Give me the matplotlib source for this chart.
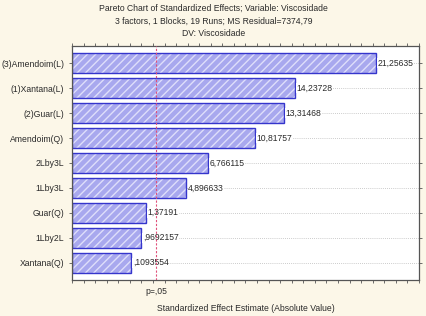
import numpy as np
import matplotlib.pyplot as plt

plt.rcParams['font.family'] = ['Liberation Sans', 'DejaVu Sans']

# effects, ordered as in the chart (largest on top)
effects = ['(3)Amendoim(L)', '(1)Xantana(L)', '(2)Guar(L)', 'Amendoim(Q)',
           '2Lby3L', '1Lby3L', 'Guar(Q)', '1Lby2L', 'Xantana(Q)']
values = [21.25635, 14.23728, 13.31468, 10.81757, 6.766115, 4.896633,
          1.37191, 0.9692157, 0.1093554]
value_labels = ['21,25635', '14,23728', '13,31468', '10,81757', '6,766115',
                '4,896633', '1,37191', ',9692157', ',1093554']
p_crit = 2.262
x_min, x_max = -5, 25

bg = '#fcf7e8'
txt = '#2a2a2a'
fs = 6.2
fig = plt.figure(figsize=(4.27, 3.16), dpi=100, facecolor=bg)
ax = fig.add_axes([72 / 427, 1 - 280 / 316, (419 - 72) / 427, (280 - 46) / 316])
ax.set_facecolor('white')

y = np.arange(len(effects))
for yi in y:
    ax.axhline(yi, color='#bbbbbb', lw=0.6, ls=(0, (1, 1.5)), zorder=0)

plt.rcParams['hatch.linewidth'] = 1.0
widths = np.array(values) - x_min
# dotted fill with light diagonal stripes, then outline
ax.barh(y, widths, left=x_min, height=0.8, facecolor='#a8a8ee',
        edgecolor='#dedefa', hatch='////', lw=0, zorder=2)
ax.barh(y, widths, left=x_min, height=0.8, facecolor='none',
        edgecolor='#3535cc', lw=1.0, zorder=2)

for yi, v, lab in zip(y, values, value_labels):
    ax.text(v + 0.15, yi, lab, va='center', ha='left', fontsize=fs,
            color=txt, zorder=3,
            bbox=dict(facecolor='white', edgecolor='none', pad=0.3))

ax.axvline(p_crit, color='#e0507a', lw=0.8, ls=(0, (2, 1.5)), zorder=3)

ax.set_xlim(x_min, x_max)
ax.set_ylim(len(effects) - 0.3, -0.7)
ax.set_yticks(y)
ax.set_yticklabels(effects, fontsize=fs, color=txt)
ax.tick_params(axis='y', which='both', left=True, right=True, length=2.5,
               width=0.6, color='#555555', pad=3)
ax.set_xticks([p_crit])
ax.set_xticklabels(['p=,05'], fontsize=fs, color=txt)
ax.set_xticks(np.arange(x_min, x_max + 1, 1), minor=True)
ax.tick_params(axis='x', which='major', length=0, pad=5)
ax.tick_params(axis='x', which='minor', top=True, bottom=True, length=2,
               width=0.6, color='#555555')
for s in ax.spines.values():
    s.set_color('#555555')
    s.set_linewidth(0.9)

ax.set_xlabel('Standardized Effect Estimate (Absolute Value)', fontsize=fs,
              color=txt, labelpad=6)

fig.text(0.5, 1 - 8 / 316, 'Pareto Chart of Standardized Effects; Variable: Viscosidade',
         ha='center', va='center', fontsize=fs, color=txt)
fig.text(0.5, 1 - 21 / 316, '3 factors, 1 Blocks, 19 Runs; MS Residual=7374,79',
         ha='center', va='center', fontsize=fs, color=txt)
fig.text(0.5, 1 - 34 / 316, 'DV: Viscosidade',
         ha='center', va='center', fontsize=fs, color=txt)

fig.savefig('out.png', dpi=100, facecolor=bg)
